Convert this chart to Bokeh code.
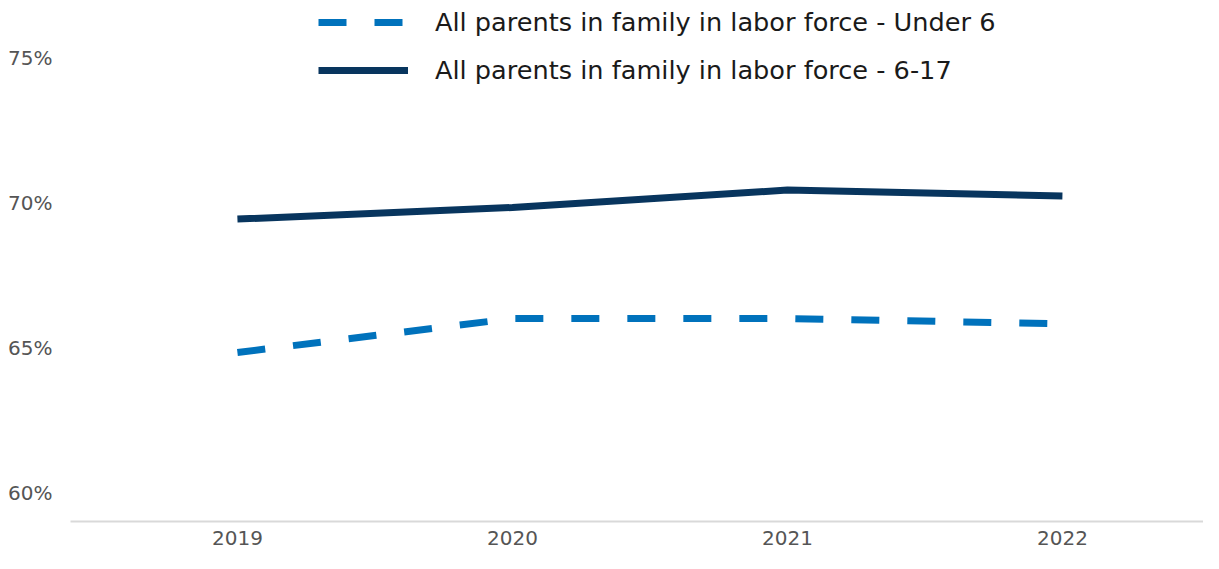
from bokeh.plotting import figure
from bokeh.models import FixedTicker, PrintfTickFormatter, Legend, LegendItem, Range1d
from bokeh.embed import file_html
from bokeh.resources import INLINE

years = [2019, 2020, 2021, 2022]
under6 = [64.83, 66.0, 66.0, 65.82]
age6_17 = [69.43, 69.83, 70.43, 70.23]
y_ticks = [60, 65, 70, 75]
label_under6 = "All parents in family in labor force - Under 6"
label_6_17 = "All parents in family in labor force - 6-17"

FONT = "DejaVu Sans"

p = figure(width=1203, height=553, output_backend="svg", toolbar_location=None,
           x_range=Range1d(2018.393, 2022.513), y_range=Range1d(59, 76.97))
p.min_border_left = 70
p.min_border_right = 0
p.min_border_top = 0
p.min_border_bottom = 32
p.outline_line_color = None
p.xgrid.visible = False
p.ygrid.visible = False

r1 = p.line(years, under6, line_color="#0072BC", line_width=7, line_dash="28 28")
r2 = p.line(years, age6_17, line_color="#08355E", line_width=7)

p.xaxis.ticker = FixedTicker(ticks=years)
p.xaxis.axis_line_color = "#d9d9d9"
p.xaxis.axis_line_width = 2
p.xaxis.major_tick_line_color = None
p.xaxis.minor_tick_line_color = None
p.xaxis.major_label_text_font = FONT
p.xaxis.major_label_text_font_size = "20px"
p.xaxis.major_label_text_color = "#555555"
p.xaxis.major_label_standoff = 3

p.yaxis.ticker = FixedTicker(ticks=y_ticks)
p.yaxis.formatter = PrintfTickFormatter(format="%d%%")
p.yaxis.axis_line_color = None
p.yaxis.major_tick_line_color = None
p.yaxis.minor_tick_line_color = None
p.yaxis.major_label_text_font = FONT
p.yaxis.major_label_text_font_size = "20px"
p.yaxis.major_label_text_color = "#555555"
p.yaxis.major_label_standoff = 12

legend = Legend(items=[LegendItem(label=label_under6, renderers=[r1]),
                       LegendItem(label=label_6_17, renderers=[r2])],
                location=(248, 436))
legend.border_line_color = None
legend.background_fill_alpha = 0
legend.padding = 0
legend.margin = 0
legend.spacing = 18
legend.glyph_width = 90
legend.glyph_height = 30
legend.label_height = 30
legend.label_standoff = 27
legend.label_text_font = FONT
legend.label_text_font_size = "25.6px"
legend.label_text_color = "#1a1a1a"
p.add_layout(legend)

open("out.html", "w").write(file_html(p, INLINE))
